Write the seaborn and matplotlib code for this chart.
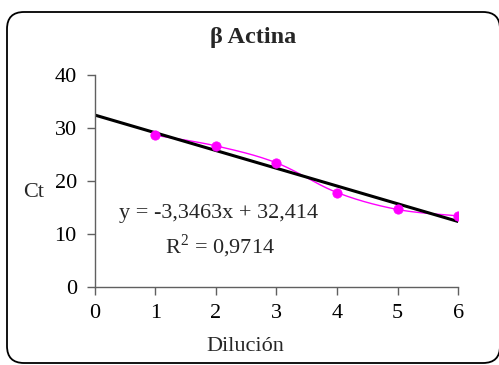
import numpy as np
import pandas as pd
import seaborn as sns
import matplotlib.pyplot as plt
from matplotlib.patches import FancyBboxPatch

# data
dilucion = [1, 2, 3, 4, 5, 6]
ct = [28.6, 26.6, 23.4, 17.8, 14.6, 13.4]
slope = -3.3463
intercept = 32.414
r2 = 0.9714

df = pd.DataFrame({'Dilución': dilucion, 'Ct': ct})

## smoothed line like excel (catmull-rom)
def smooth(x, y, n=30):
    x = np.asarray(x, float)
    y = np.asarray(y, float)
    px = np.concatenate([[x[0]], x, [x[-1]]])
    py = np.concatenate([[y[0]], y, [y[-1]]])
    xs, ys = [], []
    t = np.linspace(0, 1, n)
    for i in range(1, len(px) - 2):
        for p, out in ((px, xs), (py, ys)):
            p0, p1, p2, p3 = p[i - 1], p[i], p[i + 1], p[i + 2]
            out.extend(0.5 * (2 * p1 + (-p0 + p2) * t
                              + (2 * p0 - 5 * p1 + 4 * p2 - p3) * t ** 2
                              + (-p0 + 3 * p1 - 3 * p2 + p3) * t ** 3))
    return np.array(xs), np.array(ys)

sx, sy = smooth(dilucion, ct)
trend = pd.DataFrame({'x': [0, 6]})
trend['y'] = slope * trend['x'] + intercept

sns.set_theme(style='white')
plt.rcParams['font.family'] = ['Liberation Serif', 'DejaVu Serif']
plt.rcParams['mathtext.fontset'] = 'custom'
plt.rcParams['mathtext.rm'] = 'Liberation Serif'

fig = plt.figure(figsize=(4.99, 3.65), dpi=100)
ax = fig.add_axes([0.19, 0.214, 0.728, 0.581])

# rounded frame in pixel coords (origin bottom-left)
frame = FancyBboxPatch((7, 2), 493, 351, boxstyle='round,pad=0,rounding_size=17',
                       transform=None, fill=False, edgecolor='black', linewidth=1.3,
                       clip_on=False)
fig.patches.append(frame)

sns.lineplot(x=sx, y=sy, ax=ax, color='#FF00FF', linewidth=1, sort=False)
sns.lineplot(data=trend, x='x', y='y', ax=ax, color='black', linewidth=2.2)
sns.scatterplot(data=df, x='Dilución', y='Ct', ax=ax, color='#FF00FF', s=45,
                edgecolor='#FF00FF', zorder=5)

ax.set_xlim(0, 6)
ax.set_ylim(0, 40)
ax.set_xticks(range(0, 7))
ax.set_yticks(range(0, 41, 10))
for s in ['top', 'right']:
    ax.spines[s].set_visible(False)
for s in ['left', 'bottom']:
    ax.spines[s].set_color('#606060')
    ax.spines[s].set_linewidth(1)
ax.tick_params(axis='both', direction='out', length=6, width=1, color='#606060',
               labelsize=16, labelcolor='black')
ax.tick_params(axis='x', pad=6, bottom=True)
ax.tick_params(axis='y', pad=7, left=True)

ax.set_xlabel('Dilución', fontsize=16, va='center')
ax.xaxis.set_label_coords(0.413, -0.282)
ax.set_ylabel('Ct', fontsize=16, rotation=0, va='center', ha='center')
ax.yaxis.set_label_coords(-0.168, 0.446)
fig.text(253 / 499, 1 - 38 / 365, 'β Actina', fontsize=17.5, fontweight='bold',
         ha='center', va='center')

ax.text(0.066, 0.345, 'y = -3,3463x + 32,414', transform=ax.transAxes, fontsize=16,
        va='center', ha='left')
ax.text(0.193, 0.19, 'R$^2$ = 0,9714', transform=ax.transAxes, fontsize=16,
        va='center', ha='left')

fig.savefig('out.png', dpi=100)
